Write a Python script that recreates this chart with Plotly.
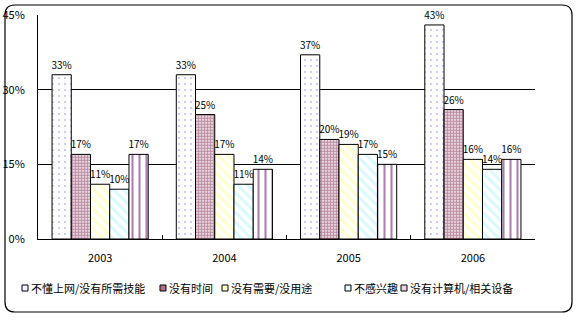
import plotly.graph_objects as go

# Survey: reasons for not using the internet, share of respondents (%)
years = ["2003", "2004", "2005", "2006"]
series_names = [
    "不懂上网/没有所需技能",
    "没有时间",
    "没有需要/没用途",
    "不感兴趣",
    "没有计算机/相关设备",
]
no_skills = [33, 33, 37, 43]
no_time = [17, 25, 20, 26]
no_need = [11, 17, 19, 16]
not_interested = [10, 11, 17, 14]
no_computer = [17, 14, 15, 16]
series_values = [no_skills, no_time, no_need, not_interested, no_computer]

y_ticks = [0, 15, 30, 45]
y_tick_text = ["0%", "15%", "30%", "45%"]

FONT = "Noto Sans CJK SC"

# pattern fill per series (shape, foreground, size, solidity)
patterns = [
    dict(shape=".", fgcolor="#6F6FFF", bgcolor="white", size=6, solidity=0.08),
    dict(shape=".", fgcolor="#7A1A48", bgcolor="white", size=3, solidity=0.7),
    dict(shape="\\", fgcolor="#FFFF99", bgcolor="white", size=7, solidity=0.45),
    dict(shape="\\", fgcolor="#B3F3FF", bgcolor="white", size=7, solidity=0.45),
    dict(shape="|", fgcolor="#5A005A", bgcolor="white", size=7, solidity=0.3),
]
legend_fill = ["#F2F2FF", "#B07088", "#FFFFCC", "#DDFAFF", "#EAD6EA"]

# layout geometry in pixels
W, H = 579, 322
ML, MR, MT, MB = 38, 44, 15, 83
PW, PH = W - ML - MR, H - MT - MB


def px_x(x):
    return (x - ML) / PW


def px_y(y):
    return (H - MB - y) / PH


fig = go.Figure()
for name, vals, pat in zip(series_names, series_values, patterns):
    fig.add_trace(go.Bar(
        x=years,
        y=vals,
        name=name,
        marker=dict(color="white", pattern=pat, line=dict(color="black", width=1)),
        text=[f"{v}%" for v in vals],
        textposition="outside",
        textangle=0,
        constraintext="none",
        cliponaxis=False,
        textfont=dict(family=FONT, size=10, color="black"),
        showlegend=False,
    ))

shapes = []
annotations = []

# rounded outer frame
x0, x1 = px_x(5), px_x(572)
y0, y1 = px_y(312), px_y(5)
rx, ry = 10 / PW, 10 / PH
path = (
    f"M {x0 + rx},{y1} L {x1 - rx},{y1} Q {x1},{y1} {x1},{y1 - ry} "
    f"L {x1},{y0 + ry} Q {x1},{y0} {x1 - rx},{y0} "
    f"L {x0 + rx},{y0} Q {x0},{y0} {x0},{y0 + ry} "
    f"L {x0},{y1 - ry} Q {x0},{y1} {x0 + rx},{y1} Z"
)
shapes.append(dict(type="path", path=path, xref="paper", yref="paper",
                   line=dict(color="black", width=1.2), layer="below"))

# legend row: small swatches followed by the series names
legend_x = [22, 160, 222, 345, 401]
legend_y = 288
for name, fill, lx in zip(series_names, legend_fill, legend_x):
    shapes.append(dict(type="rect", xref="paper", yref="paper",
                       x0=px_x(lx), x1=px_x(lx + 6),
                       y0=px_y(legend_y + 3), y1=px_y(legend_y - 3),
                       fillcolor=fill, line=dict(color="black", width=1)))
    annotations.append(dict(text=name, xref="paper", yref="paper",
                            x=px_x(lx + 7), y=px_y(legend_y),
                            xanchor="left", yanchor="middle", showarrow=False,
                            font=dict(family=FONT, size=11, color="black")))

fig.update_layout(
    width=W, height=H,
    margin=dict(l=ML, r=MR, t=MT, b=MB, pad=0, autoexpand=False),
    paper_bgcolor="white", plot_bgcolor="white",
    barmode="group", bargap=0.226, bargroupgap=0,
    font=dict(family=FONT, size=11, color="black"),
    shapes=shapes, annotations=annotations,
    xaxis=dict(
        type="category", showline=True, linecolor="black", linewidth=1,
        ticks="inside", tickson="boundaries", ticklen=4, tickcolor="black",
        showgrid=False, ticklabelstandoff=9, automargin=False,
        tickfont=dict(family=FONT, size=11, color="black"),
    ),
    yaxis=dict(
        range=[0, 45], tickvals=y_ticks, ticktext=y_tick_text,
        showline=True, linecolor="black", linewidth=1,
        showgrid=True, gridcolor="black", gridwidth=1, zeroline=False,
        ticks="", ticklabelstandoff=10, automargin=False,
        tickfont=dict(family=FONT, size=11, color="black"),
    ),
)

fig.write_html("out.html")
